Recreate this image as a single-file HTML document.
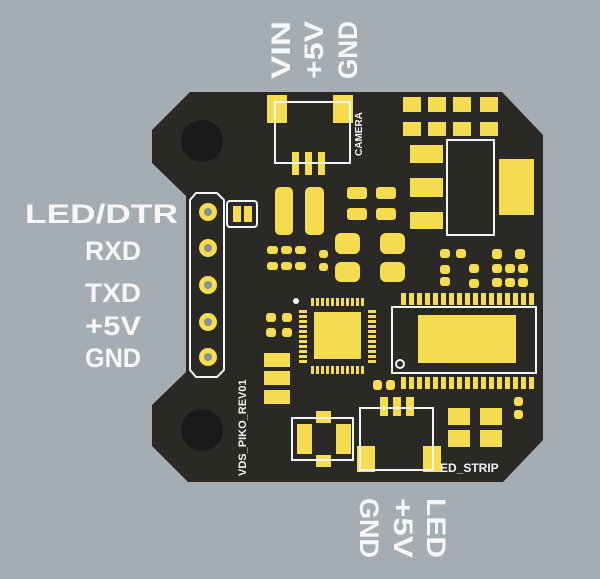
<!DOCTYPE html>
<html><head><meta charset="utf-8"><style>
html,body{margin:0;padding:0;background:#a4acb4;}
svg{display:block}
.lbl{font-family:"Liberation Sans",sans-serif;font-weight:bold;fill:#f7f7f7;font-size:27px;}
.sk{fill:none;stroke:#f4f4f4;stroke-width:2}
.y{fill:#f5dc50}
</style></head><body>
<svg width="600" height="579" viewBox="0 0 600 579" xmlns="http://www.w3.org/2000/svg">
<rect width="600" height="579" fill="#a4acb4"/>
<path d="M190,92 L502,92 L543,135 L543,440 L503,482 L188,482 L152,446 L152,405 L186,372 L186,196 L152,163 L152,130 Z" fill="#2b2925"/>
<circle cx="202" cy="141" r="21" fill="#1a1917"/>
<circle cx="202" cy="430" r="21" fill="#1a1917"/>
<rect class="y" x="267" y="95" width="20" height="28"/>
<rect class="y" x="333" y="95" width="20" height="28"/>
<rect class="y" x="292" y="152" width="7" height="23"/>
<rect class="y" x="305" y="152" width="7" height="23"/>
<rect class="y" x="318" y="152" width="7" height="23"/>
<rect class="sk" x="275" y="102" width="75" height="61"/>
<text x="0" y="0" transform="translate(362,156) rotate(-90)" font-family="Liberation Sans,sans-serif" font-weight="bold" font-size="10" fill="#f4f4f4">CAMERA</text>
<g class="y">
<rect x="403" y="97" width="18" height="15"/><rect x="428" y="97" width="18" height="15"/><rect x="453" y="97" width="18" height="15"/><rect x="480" y="97" width="18" height="15"/>
<rect x="403" y="122" width="18" height="14"/><rect x="428" y="122" width="18" height="14"/><rect x="453" y="122" width="18" height="14"/><rect x="480" y="122" width="18" height="14"/>
<rect x="410" y="145" width="33" height="18"/><rect x="410" y="178" width="33" height="19"/><rect x="410" y="212" width="33" height="17"/>
<rect x="499" y="159" width="35" height="56"/>
</g>
<rect class="sk" x="447" y="140" width="47" height="95"/>
<g class="y">
<rect x="275" y="187" width="18" height="48" rx="5"/><rect x="305" y="187" width="19" height="48" rx="5"/>
<rect x="347" y="187" width="20" height="12" rx="3"/><rect x="347" y="208" width="20" height="12" rx="3"/>
<rect x="376" y="187" width="20" height="12" rx="3"/><rect x="376" y="208" width="20" height="12" rx="3"/>
<rect x="335" y="233" width="25" height="21" rx="6"/><rect x="380" y="233" width="25" height="21" rx="6"/>
<rect x="335" y="262" width="25" height="20" rx="6"/><rect x="380" y="262" width="25" height="20" rx="6"/>
<rect x="267" y="246" width="11" height="8" rx="3"/><rect x="281" y="246" width="11" height="8" rx="3"/><rect x="295" y="246" width="11" height="8" rx="3"/>
<rect x="267" y="262" width="11" height="8" rx="3"/><rect x="281" y="262" width="11" height="8" rx="3"/><rect x="295" y="262" width="11" height="8" rx="3"/>
<rect x="319" y="250" width="9" height="8" rx="3"/><rect x="319" y="263" width="9" height="8" rx="3"/>
<rect x="440" y="249" width="10" height="9" rx="3"/><rect x="456" y="249" width="10" height="9" rx="3"/>
<rect x="440" y="265" width="10" height="9" rx="3"/><rect x="469" y="264" width="10" height="9" rx="3"/><rect x="469" y="279" width="10" height="9" rx="3"/>
<rect x="492" y="249" width="10" height="10" rx="3"/><rect x="515" y="249" width="10" height="10" rx="3"/>
<rect x="492" y="264" width="10" height="9" rx="3"/><rect x="505" y="264" width="10" height="9" rx="3"/><rect x="518" y="264" width="10" height="9" rx="3"/>
<rect x="492" y="278" width="10" height="9" rx="3"/><rect x="505" y="278" width="10" height="9" rx="3"/><rect x="518" y="278" width="10" height="9" rx="3"/>
<rect x="440" y="277" width="10" height="9" rx="3"/>
</g>
<rect class="sk" x="227" y="201" width="30" height="26" rx="3"/>
<rect class="y" x="233" y="206" width="8" height="16"/><rect class="y" x="244" y="206" width="8" height="16"/>
<path class="sk" d="M196,193 L217,193 L224,200 L224,370 L217,377 L196,377 L190,370 L190,200 Z"/>
<g>
<circle cx="208" cy="212" r="9" class="y"/><circle cx="208" cy="212" r="4" fill="#8a8f92"/>
<circle cx="208" cy="248" r="9" class="y"/><circle cx="208" cy="248" r="4" fill="#8a8f92"/>
<circle cx="208" cy="285" r="9" class="y"/><circle cx="208" cy="285" r="4" fill="#8a8f92"/>
<circle cx="208" cy="322" r="9" class="y"/><circle cx="208" cy="322" r="4" fill="#8a8f92"/>
<circle cx="208" cy="357" r="9" class="y"/><circle cx="208" cy="357" r="4" fill="#8a8f92"/>
</g>
<rect class="y" x="314" y="312" width="47" height="47"/>
<g class="y">
<rect x="311" y="298" width="3" height="8"/><rect x="316" y="298" width="3" height="8"/><rect x="321" y="298" width="3" height="8"/><rect x="326" y="298" width="3" height="8"/><rect x="331" y="298" width="3" height="8"/><rect x="336" y="298" width="3" height="8"/><rect x="341" y="298" width="3" height="8"/><rect x="346" y="298" width="3" height="8"/><rect x="351" y="298" width="3" height="8"/><rect x="356" y="298" width="3" height="8"/><rect x="361" y="298" width="3" height="8"/>
<rect x="311" y="366" width="3" height="8"/><rect x="316" y="366" width="3" height="8"/><rect x="321" y="366" width="3" height="8"/><rect x="326" y="366" width="3" height="8"/><rect x="331" y="366" width="3" height="8"/><rect x="336" y="366" width="3" height="8"/><rect x="341" y="366" width="3" height="8"/><rect x="346" y="366" width="3" height="8"/><rect x="351" y="366" width="3" height="8"/><rect x="356" y="366" width="3" height="8"/><rect x="361" y="366" width="3" height="8"/>
<rect x="299" y="310" width="8" height="3"/><rect x="299" y="315" width="8" height="3"/><rect x="299" y="320" width="8" height="3"/><rect x="299" y="325" width="8" height="3"/><rect x="299" y="330" width="8" height="3"/><rect x="299" y="335" width="8" height="3"/><rect x="299" y="340" width="8" height="3"/><rect x="299" y="345" width="8" height="3"/><rect x="299" y="350" width="8" height="3"/><rect x="299" y="355" width="8" height="3"/><rect x="299" y="360" width="8" height="3"/>
<rect x="368" y="310" width="8" height="3"/><rect x="368" y="315" width="8" height="3"/><rect x="368" y="320" width="8" height="3"/><rect x="368" y="325" width="8" height="3"/><rect x="368" y="330" width="8" height="3"/><rect x="368" y="335" width="8" height="3"/><rect x="368" y="340" width="8" height="3"/><rect x="368" y="345" width="8" height="3"/><rect x="368" y="350" width="8" height="3"/><rect x="368" y="355" width="8" height="3"/><rect x="368" y="360" width="8" height="3"/>
</g>
<circle cx="296" cy="301" r="3" fill="#f4f4f4"/>
<g class="y">
<rect x="266" y="313" width="10" height="9" rx="3"/><rect x="282" y="313" width="10" height="9" rx="3"/>
<rect x="266" y="328" width="10" height="9" rx="3"/><rect x="282" y="328" width="10" height="9" rx="3"/>
<rect x="264" y="353" width="26" height="14"/><rect x="264" y="371" width="26" height="14"/><rect x="264" y="390" width="26" height="14"/>
</g>
<g class="y">
<rect x="401" y="293" width="5" height="12"/><rect x="409" y="293" width="5" height="12"/><rect x="417" y="293" width="5" height="12"/><rect x="425" y="293" width="5" height="12"/><rect x="433" y="293" width="5" height="12"/><rect x="441" y="293" width="5" height="12"/><rect x="449" y="293" width="5" height="12"/><rect x="457" y="293" width="5" height="12"/><rect x="465" y="293" width="5" height="12"/><rect x="473" y="293" width="5" height="12"/><rect x="481" y="293" width="5" height="12"/><rect x="489" y="293" width="5" height="12"/><rect x="497" y="293" width="5" height="12"/><rect x="505" y="293" width="5" height="12"/><rect x="513" y="293" width="5" height="12"/><rect x="521" y="293" width="5" height="12"/><rect x="529" y="293" width="5" height="12"/>
<rect x="401" y="377" width="5" height="12"/><rect x="409" y="377" width="5" height="12"/><rect x="417" y="377" width="5" height="12"/><rect x="425" y="377" width="5" height="12"/><rect x="433" y="377" width="5" height="12"/><rect x="441" y="377" width="5" height="12"/><rect x="449" y="377" width="5" height="12"/><rect x="457" y="377" width="5" height="12"/><rect x="465" y="377" width="5" height="12"/><rect x="473" y="377" width="5" height="12"/><rect x="481" y="377" width="5" height="12"/><rect x="489" y="377" width="5" height="12"/><rect x="497" y="377" width="5" height="12"/><rect x="505" y="377" width="5" height="12"/><rect x="513" y="377" width="5" height="12"/><rect x="521" y="377" width="5" height="12"/><rect x="529" y="377" width="5" height="12"/>
<rect x="418" y="315" width="98" height="48"/>
<rect x="373" y="380" width="9" height="10" rx="3"/><rect x="386" y="380" width="9" height="10" rx="3"/>
<rect x="514" y="397" width="9" height="9" rx="3"/><rect x="514" y="410" width="9" height="9" rx="3"/>
</g>
<rect class="sk" x="392" y="307" width="144" height="66"/>
<circle cx="400" cy="364" r="4" class="sk"/>
<g class="y">
<rect x="316" y="411" width="15" height="12"/><rect x="297" y="424" width="15" height="30"/><rect x="336" y="424" width="15" height="30"/><rect x="316" y="455" width="15" height="12"/>
</g>
<rect class="sk" x="292" y="418" width="61" height="42"/>
<g class="y">
<rect x="380" y="397" width="8" height="19"/><rect x="393" y="397" width="8" height="19"/><rect x="406" y="397" width="8" height="19"/>
<rect x="357" y="446" width="18" height="26"/><rect x="423" y="446" width="18" height="26"/>
<rect x="448" y="408" width="22" height="17"/><rect x="480" y="408" width="22" height="17"/>
<rect x="448" y="430" width="22" height="17"/><rect x="480" y="430" width="22" height="17"/>
</g>
<rect class="sk" x="360" y="408" width="73" height="62"/>
<text x="440" y="472" font-family="Liberation Sans,sans-serif" font-weight="bold" font-size="12" fill="#f4f4f4">ED_STRIP</text>
<text x="0" y="0" transform="translate(246,476) rotate(-90)" font-family="Liberation Sans,sans-serif" font-weight="bold" font-size="11" fill="#f4f4f4">VDS_PIKO_REV01</text>
<g class="lbl">
<text x="25" y="223" textLength="153" lengthAdjust="spacingAndGlyphs">LED/DTR</text>
<text x="85" y="260" textLength="56" lengthAdjust="spacingAndGlyphs">RXD</text>
<text x="85" y="302" textLength="56" lengthAdjust="spacingAndGlyphs">TXD</text>
<text x="85" y="335" textLength="56" lengthAdjust="spacingAndGlyphs">+5V</text>
<text x="85" y="367" textLength="56" lengthAdjust="spacingAndGlyphs">GND</text>
<text transform="translate(290,79) rotate(-90)" textLength="58" lengthAdjust="spacingAndGlyphs">VIN</text>
<text transform="translate(323,79) rotate(-90)" textLength="58" lengthAdjust="spacingAndGlyphs">+5V</text>
<text transform="translate(357,79) rotate(-90)" textLength="58" lengthAdjust="spacingAndGlyphs">GND</text>
<text transform="translate(360,498) rotate(90)" textLength="60" lengthAdjust="spacingAndGlyphs">GND</text>
<text transform="translate(394,498) rotate(90)" textLength="60" lengthAdjust="spacingAndGlyphs">+5V</text>
<text transform="translate(427,498) rotate(90)" textLength="60" lengthAdjust="spacingAndGlyphs">LED</text>
</g>
</svg>
</body></html>
